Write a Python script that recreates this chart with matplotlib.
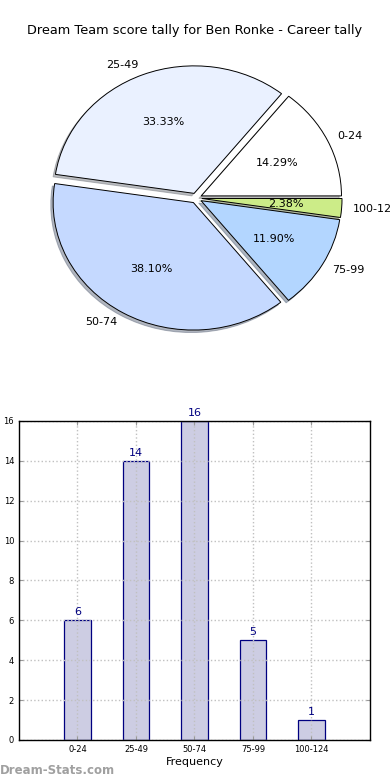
import matplotlib
matplotlib.use("Agg")
import numpy as np
from matplotlib import pyplot as plt

# data
bins = ['0-24', '25-49', '50-74', '75-99', '100-124']
counts = [6, 14, 16, 5, 1]
pie_colors = ['#ffffff', '#eaf1ff', '#c5d9ff', '#b3d6ff', '#ccec88']

fig = plt.figure(figsize=(3.9, 7.8), dpi=100)

fig.text(0.5, 0.961, "Dream Team score tally for Ben Ronke - Career tally",
         ha='center', va='center', fontsize=9.3)

# pie (no equal aspect, so it comes out a bit stretched)
ax1 = fig.add_axes([0.0355, 0.5335, 0.935, 0.425])
ax1.pie(counts, labels=bins, colors=pie_colors, explode=[0.04] * len(counts),
        autopct='%1.2f%%', startangle=0, labeldistance=1.08,
        shadow={'ox': -0.012, 'oy': -0.014, 'shade': 0.5},
        wedgeprops={'edgecolor': 'black', 'linewidth': 0.7},
        textprops={'fontsize': 8})
ax1.set_aspect('auto')
ax1.set_xlim(-1.3, 1.3)
ax1.set_ylim(-1.3, 1.3)
ax1.axis('off')

# bar chart
ax2 = fig.add_axes([0.0487, 0.0513, 0.9, 0.409])
x = np.arange(1, len(bins) + 1)
bars = ax2.bar(x, counts, width=0.45, color='#cdcde3', edgecolor='#000080',
               linewidth=0.9, zorder=1)
for xi, c in zip(x, counts):
    ax2.text(xi, c + 0.15, str(c), ha='center', va='bottom', color='#000080',
             fontsize=8)
ax2.set_xlim(0, 6)
ax2.set_ylim(0, 16)
ax2.set_xticks(x)
ax2.set_xticklabels(bins)
ax2.set_yticks(range(0, 17, 2))
ax2.tick_params(labelsize=6, direction='in', top=True, right=True,
                color='#999999', length=3)
ax2.set_axisbelow('line')
ax2.grid(True, linestyle=':', color='#c0c0c0', linewidth=1)
ax2.set_xlabel("Frequency", fontsize=8, labelpad=2)
ax2.set_ylabel("Score Tally", fontsize=8, labelpad=3)
for s in ax2.spines.values():
    s.set_linewidth(1)
    s.set_zorder(3)

fig.text(0.0, 0.012, "Dream-Stats.com", ha='left', va='center', fontsize=8.5,
         color='#a0a0a0', fontweight='bold')

fig.savefig("out.png", dpi=100)
